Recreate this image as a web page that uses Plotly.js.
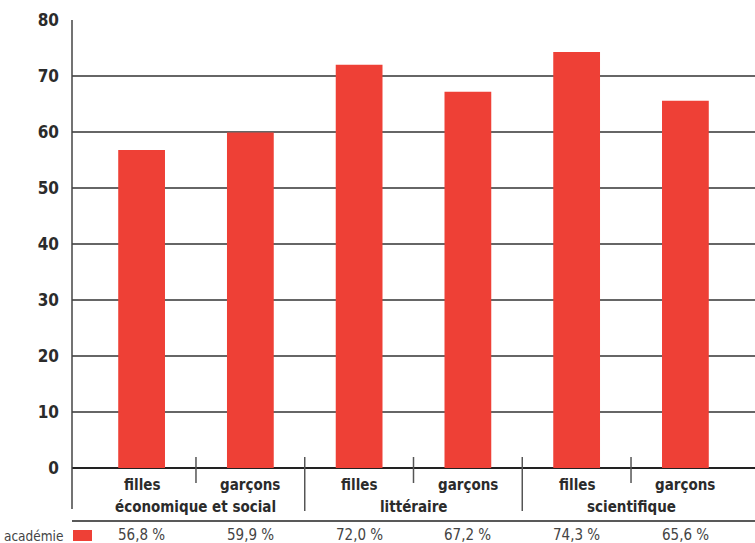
<!DOCTYPE html>
<html>
<head>
<meta charset="utf-8">
<script src="https://cdn.plot.ly/plotly-3.0.1.min.js"></script>
<style>
  html, body { margin: 0; padding: 0; background: #fff; }
  #chart { width: 755px; height: 543px; }
</style>
</head>
<body>
<div id="chart"></div>
<script>
// Taux de réussite par série et par sexe
const sexes = ["filles", "garçons", "filles", "garçons", "filles", "garçons"];
const series = ["économique et social", "littéraire", "scientifique"];
const academie = [56.8, 59.9, 72.0, 67.2, 74.3, 65.6];
const rowLabel = "académie";
const yTicks = [0, 10, 20, 30, 40, 50, 60, 70, 80];

const FONT = "'Liberation Sans Narrow', 'DejaVu Sans Condensed', 'Roboto Condensed', sans-serif";
const RED = "#ee4036";
const INK = "#2b2b2b";

const xIdx = sexes.map((_, i) => i);

const trace = {
  type: "bar",
  x: xIdx,
  y: academie,
  width: 0.43,
  marker: { color: RED },
  hoverinfo: "skip",
  showlegend: false
};

// y in paper units for a pixel offset below the zero line (plot height 448px)
const PH = 448;
const py = px => -px / PH;

const shapes = [];
// left axis line, running down past the category labels
shapes.push({ type: "line", xref: "paper", yref: "paper", x0: 0, x1: 0, y0: 1, y1: py(41),
  line: { color: "#444", width: 1.5 } });
// separators between sexes (short) and between séries (long)
for (let i = 0; i < sexes.length - 1; i++) {
  const long = (i % 2 === 1);
  shapes.push({ type: "line", xref: "x", yref: "paper", x0: i + 0.5, x1: i + 0.5,
    y0: 11 / PH, y1: long ? py(43) : py(15), line: { color: "#555", width: 1.5 } });
}
// rule above the value row
shapes.push({ type: "line", xref: "paper", yref: "paper", x0: 0, x1: 1, y0: py(53), y1: py(53),
  line: { color: "#222", width: 1.5 } });
// legend swatch
shapes.push({ type: "rect", xref: "paper", yref: "paper", x0: 1 / 683, x1: 20 / 683,
  y0: py(62), y1: py(73), fillcolor: RED, line: { width: 0 } });

const annotations = [];
sexes.forEach((s, i) => {
  annotations.push({ x: i, y: 0, xref: "x", yref: "paper", text: s, showarrow: false,
    yanchor: "middle", yshift: -17, font: { family: FONT, size: 15, color: INK, weight: "bold" } });
});
series.forEach((s, g) => {
  annotations.push({ x: 2 * g + 0.5, y: 0, xref: "x", yref: "paper", text: s, showarrow: false,
    yanchor: "middle", yshift: -39, font: { family: FONT, size: 15, color: INK, weight: "bold" } });
});
academie.forEach((v, i) => {
  annotations.push({ x: i, y: 0, xref: "x", yref: "paper",
    text: v.toFixed(1).replace(".", ",") + " %", showarrow: false,
    yanchor: "bottom", yshift: -77, borderpad: 0,
    font: { family: FONT, size: 15, color: "#444" } });
});
annotations.push({ x: 0, y: 0, xref: "paper", yref: "paper", text: rowLabel, showarrow: false,
  xanchor: "right", yanchor: "bottom", xshift: -8, yshift: -77, borderpad: 0,
  font: { family: FONT, size: 13.5, color: "#444" } });

const layout = {
  width: 755,
  height: 543,
  margin: { l: 72, r: 0, t: 20, b: 75 },
  paper_bgcolor: "#fff",
  plot_bgcolor: "#fff",
  xaxis: {
    type: "linear",
    range: [-0.64, 5.64],
    showgrid: false,
    zeroline: false,
    showticklabels: false,
    showline: false,
    ticks: "",
    fixedrange: true
  },
  yaxis: {
    range: [0, 80],
    tickvals: yTicks,
    ticktext: yTicks.map(String),
    showgrid: true,
    gridcolor: "#666",
    gridwidth: 1.5,
    zeroline: true,
    zerolinecolor: "#222",
    zerolinewidth: 2,
    showline: false,
    ticks: "",
    ticklabelstandoff: 12,
    tickfont: { family: FONT, size: 17, color: INK, weight: "bold" },
    layer: "below traces",
    fixedrange: true
  },
  shapes: shapes,
  annotations: annotations
};

Plotly.newPlot("chart", [trace], layout, { displayModeBar: false, staticPlot: true });
</script>
</body>
</html>
